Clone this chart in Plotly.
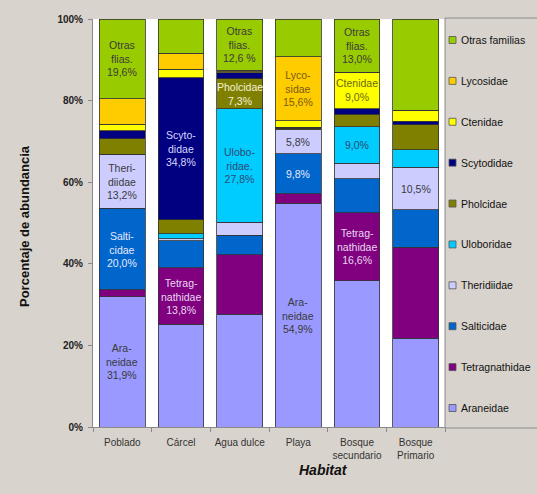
import plotly.graph_objects as go

# ---------------- data ----------------
habitats = ["Poblado", "Cárcel", "Agua dulce", "Playa", "Bosque secundario", "Bosque Primario"]
tick_labels = ["Poblado", "Cárcel", "Agua dulce", "Playa", "Bosque<br>secundario", "Bosque<br>Primario"]

families = ["Araneidae", "Tetragnathidae", "Salticidae", "Theridiidae", "Uloboridae",
            "Pholcidae", "Scytodidae", "Ctenidae", "Lycosidae", "Otras familias"]

araneidae = [31.9, 25.2, 27.6, 54.9, 35.9, 21.7]
tetragnathidae = [1.7, 13.8, 14.6, 2.3, 16.6, 22.3]
salticidae = [20.0, 6.7, 4.8, 9.8, 8.3, 9.2]
theridiidae = [13.2, 0.5, 3.2, 5.8, 3.8, 10.5]
uloboridae = [0.0, 1.2, 27.8, 0.0, 9.0, 4.3]
pholcidae = [3.8, 3.4, 7.3, 0.4, 3.0, 6.1]
scytodidae = [2.0, 34.8, 1.5, 0.3, 1.4, 0.8]
ctenidae = [1.6, 2.1, 0.3, 1.6, 9.0, 2.7]
lycosidae = [6.2, 3.9, 0.3, 15.6, 0.0, 0.0]
otras = [19.6, 8.4, 12.6, 9.3, 13.0, 22.4]

values = [araneidae, tetragnathidae, salticidae, theridiidae, uloboridae,
          pholcidae, scytodidae, ctenidae, lycosidae, otras]

colors = ["#9999FF", "#800080", "#0066CC", "#CCCCFF", "#00CCFF",
          "#808000", "#000080", "#FFFF00", "#FFCC00", "#99CC00"]

# in-bar labels: (habitat, family, text template, text colour)
labels = [
    ("Poblado", "Otras familias", "Otras<br>flias.<br>{v}%", "#3a3a3a"),
    ("Poblado", "Theridiidae", "Theri-<br>diidae<br>{v}%", "#3a3a3a"),
    ("Poblado", "Salticidae", "Salti-<br>cidae<br>{v}%", "#E8E8FF"),
    ("Poblado", "Araneidae", "Ara-<br>neidae<br>{v}%", "#3a3a3a"),
    ("Cárcel", "Scytodidae", "Scyto-<br>didae<br>{v}%", "#D8D8FF"),
    ("Cárcel", "Tetragnathidae", "Tetrag-<br>nathidae<br>{v}%", "#E8D8F0"),
    ("Agua dulce", "Otras familias", "Otras<br>flias.<br>{v} %", "#3a3a3a"),
    ("Agua dulce", "Pholcidae", "Pholcidae<br>{v}%", "#F2F2D8"),
    ("Agua dulce", "Uloboridae", "Ulobo-<br>ridae.<br>{v}%", "#2E4A72"),
    ("Playa", "Lycosidae", "Lyco-<br>sidae<br>{v}%", "#7A5A10"),
    ("Playa", "Theridiidae", "{v}%", "#3a3a3a"),
    ("Playa", "Salticidae", "{v}%", "#E8E8FF"),
    ("Playa", "Araneidae", "Ara-<br>neidae<br>{v}%", "#3a3a3a"),
    ("Bosque secundario", "Otras familias", "Otras<br>flias.<br>{v}%", "#3a3a3a"),
    ("Bosque secundario", "Ctenidae", "Ctenidae<br>{v}%", "#6A6A10"),
    ("Bosque secundario", "Uloboridae", "{v}%", "#2E4A72"),
    ("Bosque secundario", "Tetragnathidae", "Tetrag-<br>nathidae<br>{v}%", "#E8D8F0"),
    ("Bosque Primario", "Theridiidae", "{v}%", "#3a3a3a"),
]

FONT = "Liberation Sans, Arial, sans-serif"
PAPER = "#D9D3CD"

W, H = 537, 494
L, R, T, B = 93, 92, 19, 67
pw, ph = W - L - R, H - T - B


def px(xp):
    return (xp - L) / pw


def py(yp):
    return (H - B - yp) / ph


fig = go.Figure()
for fam, vals, col in zip(families, values, colors):
    fig.add_trace(go.Bar(
        x=habitats, y=vals, name=fam,
        marker=dict(color=col, line=dict(color="#333333", width=0.8)),
        hoverinfo="name+y", showlegend=False,
    ))

# annotations at the middle of each labelled segment (computed from data)
annotations = []
for hab, fam, tmpl, tcol in labels:
    i = habitats.index(hab)
    k = families.index(fam)
    base = sum(values[j][i] for j in range(k))
    v = values[k][i]
    txt = tmpl.format(v=f"{v:.1f}".replace(".", ","))
    annotations.append(dict(x=hab, y=base + v / 2, xref="x", yref="y", text=txt,
                            showarrow=False, font=dict(family=FONT, size=10.5, color=tcol)))

annotations.append(dict(x=px(323), y=py(480), xref="paper", yref="paper",
                        text="<b><i>Habitat</i></b>", showarrow=False,
                        font=dict(family=FONT, size=14, color="#111111")))
annotations.append(dict(x=px(24), y=py(226), xref="paper", yref="paper",
                        text="<b>Porcentaje de abundancia</b>", textangle=-90,
                        showarrow=False, xanchor="center",
                        font=dict(family=FONT, size=13, color="#111111")))

# legend box (drawn to match the reference layout), top entry = last family
shapes = [dict(type="rect", xref="paper", yref="paper",
               x0=px(445), x1=px(560), y0=py(428), y1=py(18),
               line=dict(color="#8a8a8a", width=1), fillcolor="rgba(0,0,0,0)", layer="below")]
n = len(families)
for r, (fam, col) in enumerate(zip(reversed(families), reversed(colors))):
    cy = 40 + r * (408 - 40) / (n - 1)
    shapes.append(dict(type="rect", xref="paper", yref="paper",
                       x0=px(449), x1=px(456), y0=py(cy + 3.5), y1=py(cy - 3.5),
                       line=dict(color="#555555", width=0.8), fillcolor=col))
    annotations.append(dict(x=px(459), y=py(cy), xref="paper", yref="paper",
                            text=fam, showarrow=False, xanchor="left", yanchor="middle",
                            font=dict(family=FONT, size=10.5, color="#111111")))

fig.update_layout(
    width=W, height=H,
    margin=dict(l=L, r=R, t=T, b=B, pad=0, autoexpand=False),
    barmode="stack", bargap=0.22,
    paper_bgcolor=PAPER, plot_bgcolor="white",
    font=dict(family=FONT, size=10, color="#222222"),
    showlegend=False,
    annotations=annotations,
    shapes=shapes,
    xaxis=dict(
        tickvals=habitats, ticktext=tick_labels, tickangle=0,
        showline=True, linecolor="#8a8a8a", linewidth=1,
        ticks="outside", ticklen=4, tickcolor="#8a8a8a", tickson="boundaries",
        ticklabelstandoff=6,
        tickfont=dict(family=FONT, size=10, color="#333333"),
        showgrid=False, zeroline=False,
    ),
    yaxis=dict(
        range=[0, 100], dtick=20, ticksuffix="%",
        showline=True, linecolor="#8a8a8a", linewidth=1,
        ticks="outside", ticklen=4, tickcolor="#8a8a8a",
        ticklabelstandoff=3,
        tickfont=dict(family=FONT, size=10, color="#222222", weight="bold"),
        showgrid=False, zeroline=False,
    ),
)

fig.write_html(
    "out.html",
    config={"displayModeBar": False},
    post_script="document.body.style.margin='0';document.body.style.background='%s';" % PAPER,
)
